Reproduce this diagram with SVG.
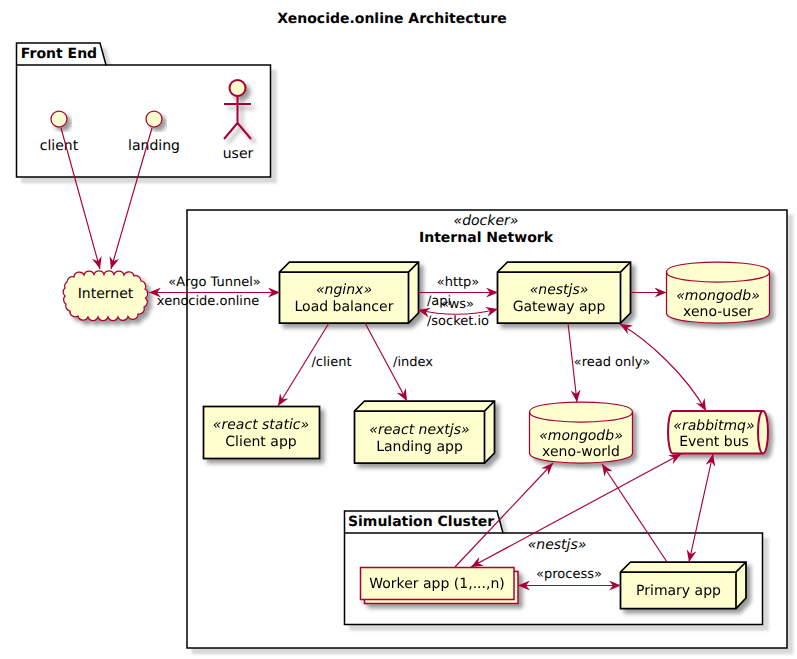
<svg xmlns="http://www.w3.org/2000/svg" width="797" height="659" viewBox="0 0 797 659">
<style>
text{font-family:"DejaVu Sans",sans-serif;font-size:14px;fill:#000;text-anchor:middle;text-rendering:geometricPrecision}
.b{font-weight:bold}
.i{font-style:italic}
.e{font-size:13px}
.box{fill:#fff;stroke:#000;stroke-width:1.5;filter:url(#bs)}
.tab{fill:none;stroke:#000;stroke-width:1.5}
.n{fill:#FEFECE;stroke:#000;stroke-width:1.75}
.k{fill:none;stroke:#000;stroke-width:1.75}
.nf{filter:url(#sh)}
.r{fill:#FEFECE;stroke:#A80036;stroke-width:1.25}
.u{fill:none;stroke:#A80036;stroke-width:1.25}
.c{fill:none;stroke:#A80036;stroke-width:1.15}
.arr{marker-end:url(#a)}
.two{marker-start:url(#s);marker-end:url(#a)}
</style>
<defs>
<filter id="sh" x="-20%" y="-20%" width="150%" height="150%">
<feDropShadow dx="4" dy="4" stdDeviation="2" flood-color="#000" flood-opacity="0.4"/>
</filter>
<filter id="bs" x="-5%" y="-5%" width="115%" height="115%">
<feDropShadow dx="5.500" dy="5.500" stdDeviation="1" flood-color="#000" flood-opacity="0.15"/>
</filter>
<marker id="a" viewBox="0 0 13 10" refX="12" refY="5" markerWidth="13" markerHeight="10" markerUnits="userSpaceOnUse" orient="auto">
<path d="M0 0L12 5L0 10L4 5Z" fill="#A80036"/>
</marker>
<marker id="s" viewBox="0 0 13 10" refX="1" refY="5" markerWidth="13" markerHeight="10" markerUnits="userSpaceOnUse" orient="auto">
<path d="M13 0L1 5L13 10L9 5Z" fill="#A80036"/>
</marker>
</defs>
<text class="b" x="392" y="23">Xenocide.online Architecture</text>

<g id="front-end">
<path class="box" d="M16.500 43H100L106 65H270.500V177H16.500Z"/>
<path class="tab" d="M16.500 65H106"/>
<text class="b" x="59" y="58">Front End</text>
</g>
<g id="internal-network">
<rect class="box" x="187" y="210" width="600" height="438"/>
<text class="i" x="486" y="225">«docker»</text>
<text class="b" x="486" y="242">Internal Network</text>
</g>
<g id="simulation-cluster">
<path class="box" d="M344.500 511H497L503 533H762.500V624.500H344.500Z"/>
<path class="tab" d="M344.500 533H503"/>
<text class="b" x="421" y="526">Simulation Cluster</text>
<text class="i" x="557" y="549">«nestjs»</text>
</g>

<g id="user">
<g class="nf">
<circle class="r" cx="237.500" cy="88" r="8" style="stroke-width:2"/>
<path d="M237.500 96V123M224 104H251M237.500 123L224 139M237.500 123L251 139" fill="none" stroke="#A80036" stroke-width="2"/>
</g>
<text x="238" y="158">user</text>
</g>
<g id="client">
<circle class="r nf" cx="59" cy="119" r="8"/>
<text x="59" y="150">client</text>
</g>
<g id="landing">
<circle class="r nf" cx="154" cy="119" r="8"/>
<text x="154" y="150">landing</text>
</g>
<g id="internet">
<path class="r nf" d="M67 282A5.300 5.300 0 0 1 74 277A5.300 5.300 0 0 1 84 275A5.300 5.300 0 0 1 94 274.500A5.300 5.300 0 0 1 104 274.500A5.300 5.300 0 0 1 114 274.500A5.300 5.300 0 0 1 124 275A5.300 5.300 0 0 1 134 276A5.300 5.300 0 0 1 141 281A5.300 5.300 0 0 1 145 289A5.300 5.300 0 0 1 145.500 298A5.300 5.300 0 0 1 144 307A5.300 5.300 0 0 1 138 314A5.300 5.300 0 0 1 128 316.500A5.300 5.300 0 0 1 118 317A5.300 5.300 0 0 1 108 317A5.300 5.300 0 0 1 98 317A5.300 5.300 0 0 1 88 317A5.300 5.300 0 0 1 78 316A5.300 5.300 0 0 1 70 311A5.300 5.300 0 0 1 66 304A5.300 5.300 0 0 1 65 296A5.300 5.300 0 0 1 65 288A5.300 5.300 0 0 1 67 282Z"/>
<text x="105.500" y="298">Internet</text>
</g>

<g id="load-balancer" class="nf">
<path class="n" d="M279.500 272L289.500 262H418.500V313L408.500 323H279.500Z"/>
<path class="k" d="M279.500 272H408.500L418.500 262M408.500 272V323"/>
<text class="i" x="344" y="294">«nginx»</text>
<text x="344" y="311">Load balancer</text>
</g>
<g id="gateway" class="nf">
<path class="n" d="M497.500 272L507.500 262H630.500V313L620.500 323H497.500Z"/>
<path class="k" d="M497.500 272H620.500L630.500 262M620.500 272V323"/>
<text class="i" x="559" y="294">«nestjs»</text>
<text x="559" y="311">Gateway app</text>
</g>
<g id="xeno-user" class="nf">
<path class="r" d="M666.500 272C666.500 262 717.500 262 717.500 262C717.500 262 769.500 262 769.500 272V313C769.500 323 717.500 323 717.500 323C717.500 323 666.500 323 666.500 313Z"/>
<path class="u" d="M666.500 272C666.500 282 717.500 282 717.500 282C717.500 282 769.500 282 769.500 272"/>
<text class="i" x="718" y="300">«mongodb»</text>
<text x="718" y="316">xeno-user</text>
</g>
<g id="client-app" class="nf">
<rect class="n" x="203.500" y="406.500" width="116" height="52"/>
<text class="i" x="261" y="429">«react static»</text>
<text x="261" y="446">Client app</text>
</g>
<g id="landing-app" class="nf">
<path class="n" d="M354.500 411L364.500 401H494.500V453L484.500 463H354.500Z"/>
<path class="k" d="M354.500 411H484.500L494.500 401M484.500 411V463"/>
<text class="i" x="419.500" y="434">«react nextjs»</text>
<text x="419.500" y="451">Landing app</text>
</g>
<g id="xeno-world" class="nf">
<path class="r" d="M529.500 412C529.500 402 581 402 581 402C581 402 632.500 402 632.500 412V453C632.500 463 581 463 581 463C581 463 529.500 463 529.500 453Z"/>
<path class="u" d="M529.500 412C529.500 422 581 422 581 422C581 422 632.500 422 632.500 412"/>
<text class="i" x="581" y="440">«mongodb»</text>
<text x="581" y="456">xeno-world</text>
</g>
<g id="event-bus" class="nf">
<path class="r" style="stroke-width:2" d="M673 411H763C766 411 768 421 768 432C768 443 766 453.500 763 453.500H673C670 453.500 668 443 668 432C668 421 670 411 673 411Z"/>
<path class="u" style="stroke-width:2" d="M763 411C760 411 758 421 758 432C758 443 760 453.500 763 453.500"/>
<text class="i" x="714" y="430">«rabbitmq»</text>
<text x="714" y="446">Event bus</text>
</g>
<g id="worker-app" class="nf">
<rect class="r" style="stroke-width:1.5" x="364.500" y="571.500" width="153.500" height="32"/>
<rect class="r" style="stroke-width:1.5" x="360.500" y="567.500" width="153.500" height="32"/>
<text x="437" y="588">Worker app (1,...,n)</text>
</g>
<g id="primary-app" class="nf">
<path class="n" d="M620.500 572L630.500 562H746V598L736 608.500H620.500Z"/>
<path class="k" d="M620.500 572H736L746 562M736 572V608.500"/>
<text x="678.500" y="595">Primary app</text>
</g>

<g id="connectors">
<path class="c arr" d="M61 128L100 269"/>
<path class="c arr" d="M152 128L111 269"/>
<path class="c two" d="M149 292.500H280"/>
<path class="c arr" d="M418.500 292.500H498"/>
<path class="c two" d="M418 310C445 316 470 316 498 309"/>
<path class="c arr" d="M630.500 292.500H666.500"/>
<path class="c arr" d="M329 323L278 406"/>
<path class="c arr" d="M365 323L407 401"/>
<path class="c arr" d="M568 323L577 402"/>
<path class="c two" d="M620 324C648 340 686 375 706 411"/>
<path class="c two" d="M681 454L471 567"/>
<path class="c two" d="M713 454L689 562"/>
<path class="c" d="M553 463L455 567" style="marker-start:url(#s)"/>
<path class="c" d="M602 464L667 562" style="marker-start:url(#s)"/>
<path class="c two" d="M518 585.500H621"/>
</g>
<g id="connector-labels">
<text class="e" x="214.500" y="286">«Argo Tunnel»</text>
<text class="e" x="208" y="305">xenocide.online</text>
<text class="e" x="458" y="286">«http»</text>
<text class="e" x="439" y="305">/api</text>
<text class="e" x="457.500" y="308">«ws»</text>
<text class="e" x="458" y="325">/socket.io</text>
<text class="e" x="331.500" y="366">/client</text>
<text class="e" x="413" y="366">/index</text>
<text class="e" x="612" y="366">«read only»</text>
<text class="e" x="569" y="578">«process»</text>
</g>
</svg>
